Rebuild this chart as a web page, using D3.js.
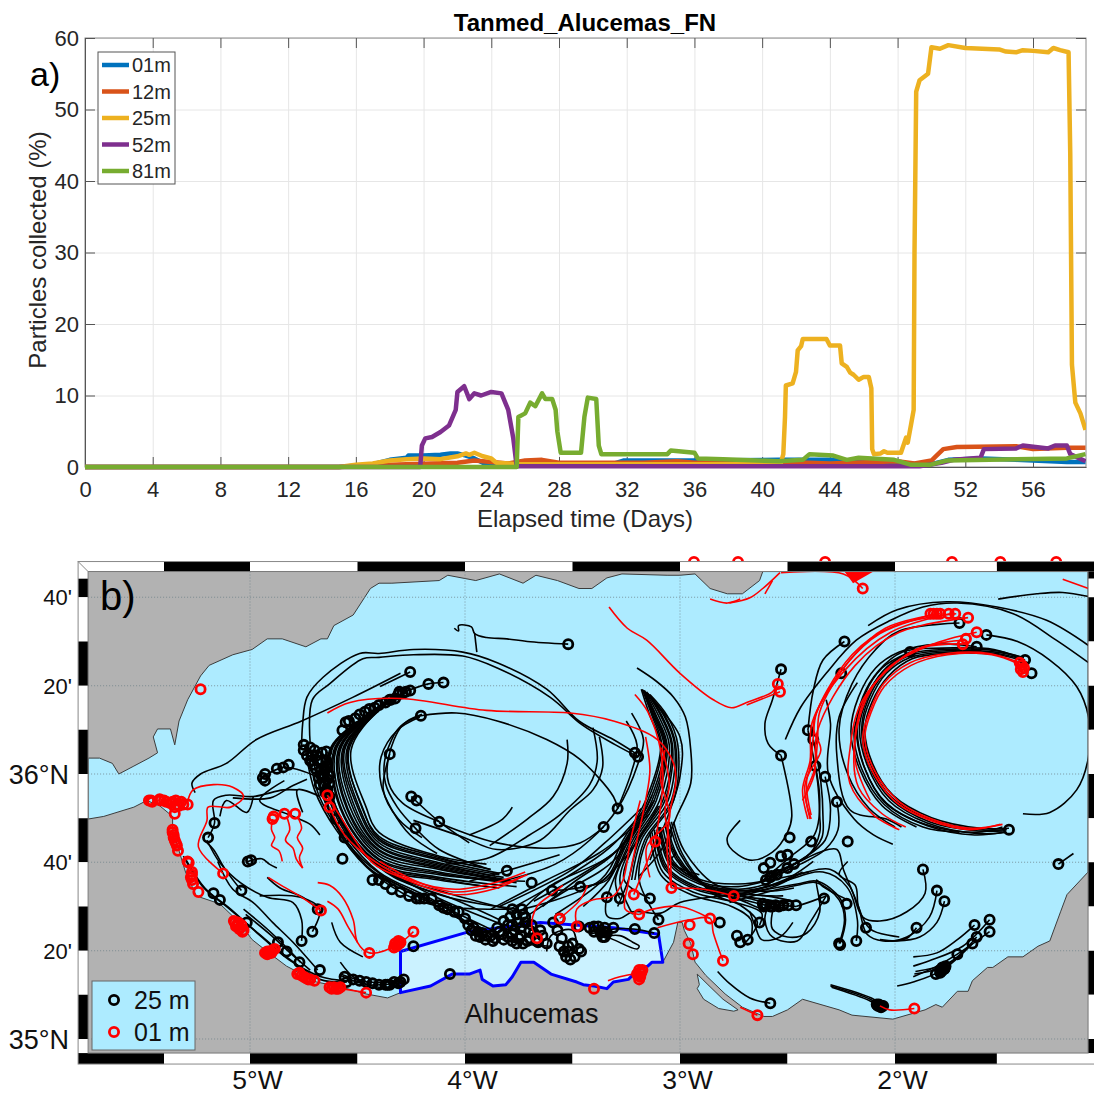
<!DOCTYPE html>
<html>
<head>
<meta charset="utf-8">
<script src="https://cdnjs.cloudflare.com/ajax/libs/d3/7.8.5/d3.min.js"></script>
<style>
body{margin:0;background:#fff;}
svg{display:block;}
text{font-family:"Liberation Sans",Arial,sans-serif;fill:#262626;}
</style>
</head>
<body>
<script>
// ---- panel a data: [day, percent]
var xTicks = [0,4,8,12,16,20,24,28,32,36,40,44,48,52,56];
var yTicks = [0,10,20,30,40,50,60];
var depthNames = ["01m","12m","25m","52m","81m"];
var depthColors = ["#0072BD","#D95319","#EDB120","#7E2F8E","#77AC30"];

var series01 = [[0,0],[15,0],[17,0.4],[18,1],[19,1.3],[19.1,1.6],[20,1.6],[21,1.7],[21.6,1.9],[22,1.9],[22.5,1.6],[23,1.2],[23.5,0.6],[25,0.3],[31,0.3],[31.8,0.9],[36,0.9],[41,1],[44.2,1],[45,0.8],[48,0.5],[50,0.4],[51,1],[53,1.2],[55,1],[58,0.7],[59.1,0.7]];
var series12 = [[0,0],[15,0],[18,0.3],[22,0.6],[23,0.9],[25,0.5],[26,0.9],[27,1],[28,0.6],[33,0.6],[35,0.8],[36,0.6],[40,0.8],[44,0.5],[48,0.8],[49,0.5],[50,0.9],[50.3,1.6],[50.7,2.5],[51.5,2.8],[55,2.9],[56,2.5],[58,2.7],[59.1,2.7]];
var series25 = [[0,0],[15,0],[16,0.3],[17,0.5],[18,0.9],[19,1.1],[20,1.2],[21,1.1],[22,1.5],[22.5,1.9],[22.7,1.7],[23,2],[23.5,1.5],[24,1.2],[24.3,0.6],[25,0.5],[25.5,0.4],[40,0.4],[41.1,0.5],[41.25,1.8],[41.35,7],[41.4,11.4],[41.8,11.7],[42,13.3],[42.1,16.3],[42.3,16.9],[42.4,17.9],[43.8,17.9],[44,17],[44.6,17],[44.7,14.5],[45,14],[45.2,13.2],[45.4,12.9],[45.7,12.2],[46,12.6],[46.3,12.6],[46.45,11],[46.5,2.5],[46.6,1.8],[47,1.9],[47.2,2.2],[47.4,2],[48.2,2],[48.5,4.1],[48.6,3.4],[48.8,6],[48.95,8],[49,30],[49.1,52.5],[49.3,54.1],[49.8,55],[50,58.7],[50.5,58.5],[51,59],[52,58.6],[54,58.4],[54.4,58.1],[55,58],[55.4,58.3],[56,58.2],[56.9,58],[57.2,58.6],[57.6,58.3],[58.1,58],[58.2,43.8],[58.3,14.3],[58.5,9],[58.8,7.5],[59.1,5.2]];
var series52 = [[0,0],[19.8,0],[19.9,3],[20.1,4],[20.5,4.2],[21,4.9],[21.5,5.8],[21.9,8],[22,10.5],[22.4,11.3],[22.7,9.5],[23,10.3],[23.4,10],[24,10.5],[24.6,10.3],[25,8],[25.3,4],[25.5,0.1],[49.3,0.1],[50.6,0.6],[51.3,1],[52.9,1.3],[53.1,2.5],[55,2.6],[55.4,3],[56.9,2.6],[57.3,3],[58,3],[58.2,1.8],[59.1,0.8]];
var series81 = [[0,0],[25.5,0],[25.6,7],[26,7.5],[26.3,9],[26.6,8.5],[27,10.3],[27.2,9.5],[27.6,9.5],[27.8,8],[27.9,5],[28.1,2],[29.3,2],[29.5,7],[29.7,9.7],[30.2,9.5],[30.35,3],[30.5,1.8],[34.4,1.8],[34.6,2.3],[36,2],[36.2,1.2],[37.7,1.1],[41,0.8],[42.4,1],[42.8,1.8],[44.2,1.6],[45,1],[45.7,1.3],[47.8,1],[48.8,0.3],[49.9,0.3],[50.9,0.9],[58,1.2],[59.1,1.8]];
var depthSeries = [series01,series12,series25,series52,series81];

// ---- panel b data: lon, lat in degrees
var lonGrid = [-5,-4,-3,-2];
var latGrid = [35,35.333,35.667,36,36.333,36.667];
var lonLabels = ["5°W","4°W","3°W","2°W"];
var latLabels = ["35°N","20'","40'","36°N","20'","40'"];
var lonEdges = [-5.8,-5.4,-5,-4.5,-4,-3.5,-3,-2.5,-2,-1.526,-1.056];
var latEdges = [36.764,36.737,36.667,36.5,36.333,36.167,36,35.833,35.667,35.5,35.333,35.167,35,34.947];

var northCoast = [[-5.753,36.06],[-5.70,36.06],[-5.64,36.04],[-5.61,36.00],[-5.54,36.03],[-5.47,36.06],[-5.43,36.08],[-5.45,36.14],[-5.43,36.17],[-5.37,36.17],[-5.35,36.11],[-5.33,36.20],[-5.29,36.28],[-5.23,36.37],[-5.19,36.41],[-5.08,36.45],[-4.99,36.47],[-4.92,36.51],[-4.85,36.51],[-4.74,36.48],[-4.67,36.51],[-4.64,36.51],[-4.61,36.56],[-4.52,36.60],[-4.44,36.70],[-4.40,36.72],[-4.34,36.72],[-4.12,36.73],[-4.08,36.75],[-3.95,36.73],[-3.84,36.755],[-3.73,36.72],[-3.67,36.75],[-3.57,36.73],[-3.47,36.70],[-3.41,36.70],[-3.34,36.74],[-3.27,36.755],[-3.06,36.75],[-3.00,36.75],[-2.93,36.755],[-2.86,36.70],[-2.78,36.68],[-2.71,36.68],[-2.63,36.73],[-2.615,36.764],[-1.102,36.764]];
var eastCoast = [[-1.102,35.63],[-1.20,35.545],[-1.23,35.48],[-1.28,35.37],[-1.335,35.35],[-1.405,35.31],[-1.475,35.31],[-1.545,35.27],[-1.57,35.27],[-1.64,35.22],[-1.66,35.18],[-1.71,35.18],[-1.78,35.12],[-1.81,35.13],[-1.86,35.11],[-2.01,35.075],[-2.20,35.09],[-2.26,35.11],[-2.43,35.15],[-2.50,35.11],[-2.57,35.085],[-2.61,35.085],[-2.71,35.12],[-2.79,35.17],[-2.88,35.24],[-2.93,35.29],[-2.95,35.36],[-2.98,35.41],[-2.99,35.44],[-3.01,35.44],[-3.03,35.365],[-3.08,35.29]];
var alhucemasCoast = [[-3.08,35.29],[-3.13,35.29],[-3.15,35.275],[-3.19,35.265],[-3.24,35.225],[-3.31,35.215],[-3.34,35.19],[-3.40,35.20],[-3.45,35.205],[-3.48,35.215],[-3.60,35.245],[-3.68,35.29],[-3.74,35.29],[-3.78,35.235],[-3.81,35.205],[-3.87,35.20],[-3.92,35.225],[-3.93,35.26],[-3.98,35.245],[-4.06,35.245],[-4.16,35.20],[-4.30,35.175]];
var westCoast = [[-4.36,35.155],[-4.46,35.17],[-4.57,35.195],[-4.69,35.215],[-4.83,35.275],[-4.92,35.33],[-4.99,35.375],[-5.05,35.44],[-5.14,35.51],[-5.25,35.54],[-5.30,35.63],[-5.36,35.79],[-5.36,35.84],[-5.42,35.88],[-5.48,35.90],[-5.54,35.875],[-5.68,35.84],[-5.753,35.83]];
var alhucemasTop = [[-4.30,35.175],[-4.30,35.33],[-3.98,35.405],[-3.65,35.44],[-3.31,35.42],[-3.10,35.395],[-3.08,35.29]];
var lagoon = [[-2.92,35.245],[-2.91,35.205],[-2.92,35.19],[-2.89,35.15],[-2.82,35.115],[-2.75,35.105],[-2.73,35.11],[-2.80,35.15],[-2.87,35.205]];
var redBlob = [[-2.235,36.764],[-2.10,36.764],[-2.195,36.72]];

var blackTracks = [
[[-4.26,36.32],[-4.39,36.25],[-4.53,36.09],[-4.46,35.875],[-4.40,35.78],[-4.12,35.69],[-3.90,35.66]],
[[-4.27,36.31],[-4.40,36.24],[-4.54,36.09],[-4.48,35.875],[-4.40,35.765],[-4.12,35.685],[-3.88,35.64]],
[[-4.27,36.31],[-4.41,36.24],[-4.55,36.09],[-4.49,35.87],[-4.40,35.75],[-4.12,35.675],[-3.84,35.625]],
[[-4.28,36.31],[-4.41,36.235],[-4.56,36.09],[-4.50,35.875],[-4.40,35.74],[-4.12,35.665],[-3.84,35.62]],
[[-4.28,36.31],[-4.42,36.23],[-4.57,36.09],[-4.52,35.87],[-4.40,35.725],[-4.12,35.655],[-3.82,35.61]],
[[-4.29,36.30],[-4.43,36.23],[-4.58,36.09],[-4.535,35.875],[-4.40,35.715],[-4.12,35.65],[-3.80,35.60]],
[[-4.30,36.30],[-4.44,36.225],[-4.59,36.09],[-4.55,35.87],[-4.40,35.70],[-4.12,35.64],[-3.78,35.595]],
[[-4.305,36.30],[-4.45,36.22],[-4.60,36.09],[-4.565,35.875],[-4.40,35.69],[-4.12,35.63],[-3.76,35.59]],
[[-4.31,36.295],[-4.46,36.22],[-4.61,36.09],[-4.58,35.87],[-4.40,35.675],[-4.12,35.62],[-3.72,35.595]],
[[-4.32,36.29],[-4.47,36.215],[-4.62,36.09],[-4.60,35.875],[-4.40,35.665],[-4.12,35.61],[-3.76,35.575]],
[[-4.33,36.29],[-4.48,36.21],[-4.63,36.09],[-4.61,35.875],[-4.40,35.65],[-4.12,35.60],[-3.84,35.57]],
[[-4.275,36.31],[-4.405,36.24],[-4.545,36.09],[-4.475,35.87],[-4.40,35.757],[-4.12,35.68],[-3.92,35.65]],
[[-4.285,36.305],[-4.425,36.23],[-4.565,36.09],[-4.51,35.87],[-4.40,35.73],[-4.12,35.66],[-3.86,35.615]],
[[-4.295,36.30],[-4.435,36.225],[-4.585,36.09],[-4.545,35.87],[-4.40,35.71],[-4.12,35.645],[-3.83,35.60]],
[[-4.31,36.30],[-4.455,36.22],[-4.605,36.09],[-4.575,35.87],[-4.40,35.68],[-4.12,35.625],[-3.80,35.59]],
[[-4.325,36.29],[-4.475,36.21],[-4.625,36.09],[-4.605,35.87],[-4.40,35.657],[-4.12,35.605],[-3.90,35.575]],
[[-4.745,36.11],[-4.70,35.94],[-4.60,35.79],[-4.44,35.64],[-4.21,35.54],[-3.98,35.43]],
[[-4.71,36.07],[-4.665,35.92],[-4.56,35.77],[-4.40,35.63],[-4.16,35.53],[-3.92,35.40]],
[[-4.665,36.08],[-4.63,35.90],[-4.53,35.75],[-4.37,35.64],[-4.12,35.53],[-3.82,35.43]],
[[-4.64,36.05],[-4.645,35.90],[-4.545,35.74],[-4.39,35.62],[-4.14,35.515],[-3.87,35.41]],
[[-4.72,36.05],[-4.68,35.92],[-4.58,35.78],[-4.42,35.625],[-4.19,35.525],[-3.95,35.42]],
[[-4.685,36.05],[-4.655,35.93],[-4.57,35.76],[-4.41,35.615],[-4.17,35.51],[-3.79,35.49]],
[[-4.645,36.085],[-4.62,35.92],[-4.52,35.76],[-4.36,35.63],[-4.10,35.54],[-3.75,35.49]],
[[-4.65,36.015],[-4.61,35.89],[-4.51,35.74],[-4.34,35.62],[-4.08,35.55],[-3.70,35.47]],
[[-4.675,35.96],[-4.62,35.84],[-4.50,35.72],[-4.33,35.61],[-4.06,35.53],[-3.84,35.45]],
[[-4.30,36.38],[-4.52,36.29],[-4.76,36.20],[-4.97,36.13],[-5.11,36.04],[-5.23,36.00],[-5.27,35.965],[-5.255,35.93]],
[[-3.21,36.08],[-3.31,36.13],[-3.47,36.20],[-3.62,36.32],[-3.85,36.42],[-4.01,36.46],[-4.24,36.47],[-4.40,36.455],[-4.49,36.455],[-4.66,36.365],[-4.735,36.29],[-4.755,36.19],[-4.76,36.10]],
[[-3.195,36.065],[-3.30,36.11],[-3.455,36.185],[-3.605,36.29],[-3.85,36.40],[-4.01,36.445],[-4.24,36.45],[-4.40,36.44],[-4.475,36.435],[-4.63,36.34],[-4.71,36.28],[-4.72,36.115]],
[[-3.52,36.49],[-3.71,36.50],[-3.805,36.51],[-3.90,36.515],[-3.955,36.53],[-3.97,36.555],[-4.03,36.56],[-4.03,36.54],[-4.05,36.55]],
[[-3.955,36.53],[-3.945,36.46]],
[[-4.255,36.385],[-4.395,36.33]],
[[-4.10,36.345],[-4.17,36.34],[-4.28,36.31]],
[[-4.205,36.22],[-4.04,36.23],[-3.85,36.20],[-3.62,36.13],[-3.465,36.055],[-3.31,35.915],[-3.29,35.87]],
[[-4.205,36.22],[-4.30,36.18],[-4.37,36.065],[-4.37,35.965],[-4.315,35.875],[-4.23,35.795],[-4.12,35.715],[-3.885,35.64]],
[[-4.21,36.215],[-4.315,36.165],[-4.39,36.065],[-4.39,35.96],[-4.34,35.865],[-4.255,35.77],[-4.13,35.70]],
[[-4.20,36.225],[-4.29,36.185],[-4.355,36.065],[-4.355,35.965],[-4.29,35.89],[-4.12,35.82]],
[[-4.35,36.075],[-4.38,35.94],[-4.31,35.83],[-4.20,35.76]],
[[-4.25,35.915],[-4.12,35.82],[-3.98,35.74]],
[[-3.525,36.13],[-3.525,36.04],[-3.59,35.915],[-3.71,35.83],[-3.885,35.73]],
[[-3.78,35.875],[-3.825,35.83],[-3.98,35.77]],
[[-3.355,35.80],[-3.465,35.74],[-3.62,35.72],[-3.85,35.74],[-4.01,35.78],[-4.12,35.815]],
[[-3.375,36.14],[-3.36,36.025],[-3.405,35.94],[-3.51,35.865],[-3.65,35.75],[-3.85,35.715],[-4.02,35.765],[-4.24,35.825]],
[[-3.405,36.175],[-3.385,36.05],[-3.42,35.96],[-3.56,35.845],[-3.70,35.77],[-3.885,35.685],[-4.09,35.66]],
[[-3.56,35.695],[-3.805,35.635],[-3.98,35.595]],
[[-3.225,36.23],[-3.17,36.13],[-3.195,36.04],[-3.29,35.87],[-3.42,35.75],[-3.58,35.66],[-3.805,35.60]],
[[-3.25,36.20],[-3.20,36.11],[-3.225,36.01],[-3.29,35.87]],
[[-3.20,36.40],[-3.11,36.35],[-3.03,36.29],[-2.975,36.215],[-2.95,36.09],[-2.95,35.965],[-3.01,35.85],[-3.09,35.71],[-3.19,35.615]],
[[-3.17,36.315],[-3.00,36.14],[-3.00,35.99],[-3.05,35.855],[-3.14,35.675]],
[[-3.18,36.32],[-3.14,36.22],[-3.09,36.11],[-3.16,35.90],[-3.265,35.75],[-3.37,35.60],[-3.73,35.49]],
[[-3.175,36.32],[-3.13,36.22],[-3.085,36.11],[-3.15,35.90],[-3.255,35.75],[-3.355,35.60],[-3.595,35.56]],
[[-3.17,36.315],[-3.125,36.22],[-3.075,36.11],[-3.14,35.90],[-3.25,35.75],[-3.34,35.60],[-3.465,35.575]],
[[-3.17,36.315],[-3.12,36.22],[-3.07,36.11],[-3.13,35.90],[-3.24,35.75],[-3.33,35.60],[-3.45,35.50]],
[[-3.165,36.315],[-3.115,36.22],[-3.065,36.11],[-3.12,35.90],[-3.23,35.75],[-3.31,35.60],[-3.34,35.535]],
[[-3.165,36.31],[-3.11,36.22],[-3.06,36.11],[-3.11,35.90],[-3.22,35.75],[-3.30,35.60],[-3.28,35.53]],
[[-3.16,36.31],[-3.10,36.22],[-3.05,36.11],[-3.095,35.90],[-3.21,35.75],[-3.28,35.60],[-3.22,35.47]],
[[-3.155,36.31],[-3.09,36.22],[-3.04,36.11],[-3.08,35.90],[-3.20,35.75],[-3.26,35.60],[-3.14,35.53]],
[[-3.15,36.305],[-3.085,36.22],[-3.035,36.11],[-3.07,35.90],[-3.19,35.75],[-3.24,35.60],[-3.29,35.50]],
[[-3.15,36.30],[-3.075,36.22],[-3.025,36.11],[-3.055,35.90],[-3.18,35.75],[-3.225,35.60]],
[[-3.145,36.30],[-3.07,36.22],[-3.02,36.11],[-3.04,35.90],[-3.165,35.75],[-3.21,35.60]],
[[-3.14,36.30],[-3.06,36.22],[-3.01,36.11],[-3.03,35.90],[-3.155,35.75],[-3.19,35.60],[-3.10,35.45]],
[[-3.12,35.90],[-3.31,35.70],[-3.60,35.58],[-3.73,35.49]],
[[-3.15,35.88],[-3.33,35.72],[-3.53,35.61],[-3.79,35.49]],
[[-3.18,35.87],[-3.35,35.74],[-3.50,35.64],[-3.84,35.50]],
[[-3.13,35.92],[-3.30,35.68],[-3.55,35.55],[-3.70,35.47]],
[[-3.14,35.85],[-3.38,35.70],[-3.62,35.60],[-3.88,35.49]],
[[-3.17,35.83],[-3.28,35.72],[-3.44,35.63],[-3.68,35.52]],
[[-3.20,35.80],[-3.32,35.69],[-3.48,35.60],[-3.64,35.50]],
[[-3.10,35.88],[-3.25,35.69],[-3.40,35.57],[-3.58,35.47]],
[[-3.09,35.80],[-3.04,35.67],[-2.90,35.60],[-2.73,35.585],[-2.60,35.60],[-2.47,35.65]],
[[-3.08,35.80],[-3.03,35.67],[-2.89,35.59],[-2.73,35.575],[-2.58,35.60],[-2.40,35.63]],
[[-3.10,35.80],[-3.05,35.66],[-2.91,35.585],[-2.73,35.565],[-2.60,35.585],[-2.53,35.62]],
[[-3.07,35.81],[-3.02,35.68],[-2.88,35.58],[-2.72,35.555],[-2.58,35.57],[-2.43,35.63]],
[[-3.11,35.79],[-3.06,35.65],[-2.92,35.575],[-2.73,35.55],[-2.60,35.54],[-2.47,35.52]],
[[-3.06,35.81],[-3.01,35.69],[-2.87,35.57],[-2.72,35.54],[-2.58,35.51],[-2.46,35.50]],
[[-3.12,35.79],[-3.07,35.64],[-2.93,35.565],[-2.73,35.53],[-2.60,35.505],[-2.51,35.495]],
[[-3.05,35.82],[-3.00,35.70],[-2.86,35.56],[-2.72,35.525],[-2.61,35.49],[-2.56,35.495]],
[[-3.13,35.78],[-3.08,35.63],[-2.94,35.555],[-2.74,35.515],[-2.62,35.475],[-2.63,35.43]],
[[-3.04,35.82],[-2.99,35.70],[-2.85,35.55],[-2.72,35.505],[-2.64,35.44],[-2.70,35.36]],
[[-3.14,35.78],[-3.09,35.62],[-2.95,35.545],[-2.76,35.50],[-2.67,35.45],[-2.67,35.38]],
[[-3.03,35.82],[-2.98,35.71],[-2.84,35.585],[-2.70,35.56],[-2.55,35.56],[-2.47,35.57]],
[[-3.095,35.80],[-3.045,35.665],[-2.905,35.59],[-2.73,35.56],[-2.59,35.575],[-2.50,35.60]],
[[-3.115,35.78],[-3.065,35.645],[-2.925,35.57],[-2.73,35.54],[-2.59,35.525],[-2.49,35.51]],
[[-3.065,35.81],[-3.015,35.685],[-2.875,35.575],[-2.72,35.548],[-2.58,35.54],[-2.52,35.54]],
[[-3.34,35.54],[-3.34,35.465],[-3.28,35.455],[-3.22,35.48],[-3.09,35.475],[-3.00,35.515],[-2.72,35.545]],
[[-3.07,35.81],[-3.04,35.77],[-3.055,35.73],[-3.02,35.705],[-3.045,35.67],[-3.00,35.645],[-2.955,35.63],[-2.91,35.62]],
[[-1.87,35.64],[-1.86,35.55],[-1.945,35.48],[-2.07,35.445],[-2.15,35.46],[-2.21,35.575],[-2.30,35.64],[-2.41,35.63],[-2.535,35.59]],
[[-1.805,35.56],[-1.84,35.46],[-1.945,35.385],[-2.055,35.37],[-2.13,35.395],[-2.17,35.50],[-2.24,35.64],[-2.27,35.715],[-2.35,35.705],[-2.455,35.665],[-2.595,35.61]],
[[-1.77,35.52],[-1.805,35.44],[-1.885,35.385],[-1.99,35.37],[-2.07,35.375]],
[[-1.90,35.42],[-1.945,35.38],[-2.02,35.37]],
[[-2.26,35.36],[-2.235,35.45],[-2.26,35.525],[-2.365,35.59],[-2.455,35.58],[-2.615,35.55],[-2.77,35.515]],
[[-2.255,35.36],[-2.23,35.45],[-2.255,35.53],[-2.36,35.595],[-2.455,35.585],[-2.62,35.56],[-2.77,35.525]],
[[-2.18,35.37],[-2.175,35.45],[-2.225,35.575],[-2.335,35.63],[-2.535,35.59],[-2.77,35.535]],
[[-2.22,35.67],[-2.26,35.62],[-2.185,35.58],[-2.17,35.50],[-2.115,35.415],[-1.98,35.385]],
[[-2.38,35.67],[-2.49,35.61],[-2.675,35.555],[-2.77,35.535]],
[[-2.32,35.54],[-2.395,35.44],[-2.455,35.37],[-2.57,35.385],[-2.605,35.45],[-2.595,35.49]],
[[-2.22,35.525],[-2.335,35.575],[-2.365,35.60],[-2.35,35.48],[-2.41,35.40],[-2.50,35.385],[-2.57,35.415],[-2.57,35.48]],
[[-2.475,35.44],[-2.535,35.385],[-2.62,35.375],[-2.65,35.425],[-2.675,35.48]],
[[-2.46,35.50],[-2.37,35.525],[-2.32,35.54]],
[[-2.53,36.07],[-2.48,35.84],[-2.50,35.78],[-2.57,35.705],[-2.675,35.675],[-2.77,35.725],[-2.78,35.76],[-2.72,35.825]],
[[-2.53,36.395],[-2.57,36.28],[-2.605,36.19],[-2.59,36.115],[-2.53,36.07]],
[[-2.235,36.50],[-2.335,36.43],[-2.38,36.315],[-2.405,36.165]],
[[-2.405,36.165],[-2.36,35.97],[-2.35,35.84],[-2.35,35.78],[-2.395,35.70],[-2.585,35.61]],
[[-2.38,36.13],[-2.345,35.97],[-2.335,35.84],[-2.34,35.76],[-2.41,35.69],[-2.56,35.63]],
[[-2.325,35.99],[-2.30,35.865],[-2.325,35.75],[-2.44,35.675],[-2.56,35.62]],
[[-2.27,35.895],[-2.265,35.79],[-2.325,35.715],[-2.44,35.66],[-2.62,35.595]],
[[-2.37,36.03],[-2.35,35.90],[-2.375,35.77],[-2.49,35.685],[-2.62,35.595]],
[[-2.32,36.28],[-2.30,36.19],[-2.31,36.00],[-2.19,35.83],[-2.10,35.77],[-2.01,35.735]],
[[-2.175,36.345],[-2.26,36.215],[-2.27,36.065],[-2.21,35.865],[-2.04,35.83],[-1.97,35.80]],
[[-1.395,36.43],[-1.525,36.455],[-1.76,36.46],[-1.93,36.44],[-2.04,36.38],[-2.115,36.28],[-2.15,36.175],[-2.115,36.04],[-2.02,35.915],[-1.84,35.83],[-1.605,35.79],[-1.48,35.79]],
[[-1.41,36.44],[-1.53,36.465],[-1.77,36.47],[-1.95,36.45],[-2.06,36.385],[-2.13,36.285],[-2.165,36.175],[-2.13,36.035],[-2.03,35.90],[-1.85,35.815],[-1.61,35.775],[-1.48,35.78]],
[[-1.43,36.44],[-1.54,36.47],[-1.78,36.475],[-1.965,36.46],[-2.075,36.39],[-2.15,36.29],[-2.18,36.17],[-2.145,36.03],[-2.05,35.895],[-1.86,35.81],[-1.62,35.78],[-1.50,35.80]],
[[-1.38,36.42],[-1.52,36.45],[-1.75,36.455],[-1.92,36.435],[-2.03,36.37],[-2.105,36.275],[-2.14,36.17],[-2.105,36.04],[-2.01,35.92],[-1.83,35.835],[-1.60,35.795],[-1.47,35.795]],
[[-1.40,36.44],[-1.53,36.46],[-1.76,36.465],[-1.94,36.445],[-2.05,36.38],[-2.125,36.28],[-2.155,36.17],[-2.12,36.03],[-2.02,35.905],[-1.84,35.82],[-1.61,35.785],[-1.49,35.785]],
[[-1.93,36.46],[-2.06,36.40],[-2.14,36.30],[-2.175,36.17],[-2.14,36.02],[-2.04,35.89],[-1.85,35.805],[-1.63,35.77],[-1.50,35.78]],
[[-1.93,36.455],[-2.05,36.39],[-2.135,36.29],[-2.19,36.16],[-2.155,36.02],[-2.05,35.885],[-1.87,35.80],[-1.70,35.78]],
[[-1.62,36.48],[-1.80,36.49],[-1.98,36.46],[-2.09,36.40],[-2.17,36.29],[-2.205,36.16],[-2.165,36.02],[-2.06,35.88],[-1.90,35.80]],
[[-1.70,36.57],[-1.98,36.54],[-2.09,36.47],[-2.20,36.34],[-2.26,36.17],[-2.22,36.0],[-2.12,35.87],[-2.00,35.80]],
[[-1.575,36.525],[-1.43,36.50],[-1.28,36.43],[-1.155,36.33],[-1.10,36.215],[-1.10,36.065],[-1.155,35.94],[-1.28,35.855],[-1.405,35.85]],
[[-2.125,36.56],[-1.99,36.62],[-1.76,36.65],[-1.525,36.63],[-1.295,36.58],[-1.10,36.485]],
[[-1.10,36.42],[-1.25,36.505],[-1.45,36.605],[-1.71,36.645],[-1.87,36.63],[-2.02,36.58],[-2.18,36.505],[-2.32,36.38],[-2.44,36.25],[-2.51,36.13]],
[[-1.52,36.66],[-1.34,36.68],[-1.22,36.685],[-1.10,36.67]],
[[-1.63,35.43],[-1.71,35.375],[-1.805,35.325],[-1.915,35.31]],
[[-1.56,35.45],[-1.685,35.35],[-1.84,35.295],[-1.915,35.275]],
[[-1.56,35.405],[-1.71,35.32],[-1.805,35.275],[-1.915,35.235]],
[[-1.64,35.36],[-1.78,35.26],[-1.915,35.215],[-1.99,35.20]],
[[-1.62,35.385],[-1.745,35.29],[-1.905,35.255]],
[[-1.72,35.30],[-1.80,35.265],[-1.91,35.245]],
[[-2.30,35.20],[-2.115,35.15],[-2.07,35.125]],
[[-2.30,35.205],[-2.11,35.155],[-2.06,35.13]],
[[-2.295,35.195],[-2.12,35.145],[-2.07,35.12]],
[[-2.58,35.135],[-2.675,35.155],[-2.77,35.21],[-2.825,35.255]],
[[-1.24,35.66],[-1.17,35.70]],
[[-5.31,35.69],[-5.22,35.575],[-5.11,35.50],[-5.00,35.425],[-4.83,35.31],[-4.675,35.225],[-4.55,35.215]],
[[-5.30,35.68],[-5.21,35.57],[-5.09,35.49],[-4.98,35.41],[-4.82,35.30],[-4.67,35.235],[-4.55,35.22]],
[[-5.15,35.67],[-5.08,35.565],[-4.985,35.515],[-4.895,35.44],[-4.80,35.365],[-4.685,35.26]],
[[-5.20,35.75],[-5.14,35.665],[-5.045,35.59],[-4.92,35.535],[-4.80,35.515],[-4.76,35.45],[-4.76,35.37]],
[[-4.71,35.405],[-4.675,35.49],[-4.765,35.535],[-4.955,35.54]],
[[-4.92,35.61],[-4.86,35.57],[-4.755,35.535],[-4.685,35.49]],
[[-5.01,35.67],[-4.945,35.68],[-4.91,35.66],[-4.875,35.645]],
[[-5.03,35.49],[-4.92,35.415],[-4.83,35.345],[-4.765,35.29]],
[[-5.02,35.47],[-4.90,35.39],[-4.82,35.33],[-4.72,35.26]],
[[-4.62,35.44],[-4.58,35.365],[-4.475,35.31]],
[[-4.58,35.29],[-4.52,35.235],[-4.455,35.215]],
[[-4.58,35.245],[-4.45,35.215],[-4.28,35.22]],
[[-4.58,35.24],[-4.45,35.205],[-4.28,35.215]],
[[-4.50,35.22],[-4.40,35.195],[-4.30,35.205]],
[[-5.04,35.56],[-5.115,35.64],[-5.17,35.715],[-5.20,35.74]],
[[-5.195,35.76],[-5.165,35.815],[-5.17,35.90],[-5.11,35.92],[-4.985,35.915],[-4.845,35.94],[-4.78,35.94]],
[[-5.14,35.84],[-5.11,35.90],[-5.015,35.855],[-4.985,35.915]],
[[-4.755,35.855],[-4.78,35.94],[-4.675,35.915]],
[[-4.94,35.99],[-4.845,36.025],[-4.77,36.015],[-4.675,35.985]],
[[-5.08,35.91],[-4.905,35.91],[-4.815,35.95],[-4.735,35.98]],
[[-4.84,35.975],[-4.955,35.90],[-4.815,35.845],[-4.72,35.81],[-4.675,35.77]],
[[-3.37,35.385],[-3.28,35.39],[-3.22,35.365],[-3.19,35.35],[-3.20,35.34],[-3.31,35.375],[-3.42,35.415]],
[[-3.42,35.395],[-3.305,35.415],[-3.215,35.415],[-3.12,35.40]],
[[-3.98,35.43],[-3.80,35.37],[-3.60,35.35]],
[[-3.62,35.33],[-3.60,35.39],[-3.50,35.41],[-3.48,35.33]]
];

var redTracks = [
[[-4.64,36.23],[-4.535,36.27],[-4.30,36.285],[-3.90,36.24],[-3.51,36.23],[-3.31,36.20],[-3.105,36.13],[-3.03,36.04],[-3.02,35.965],[-3.045,35.865],[-3.06,35.71],[-3.04,35.57]],
[[-3.33,36.63],[-3.245,36.55],[-3.155,36.505],[-3.00,36.38],[-2.845,36.28],[-2.76,36.25],[-2.69,36.27],[-2.57,36.31],[-2.545,36.34]],
[[-2.69,36.26],[-2.535,36.31]],
[[-3.21,36.30],[-3.15,36.235],[-3.09,36.09],[-3.08,35.965],[-3.115,35.745]],
[[-3.16,36.14],[-3.14,36.015],[-3.16,35.90],[-3.20,35.75],[-3.24,35.59],[-3.255,35.49],[-3.19,35.47]],
[[-3.14,35.61],[-3.155,35.725],[-3.05,35.83],[-3.09,35.98],[-3.07,36.09]],
[[-3.085,36.10],[-3.05,35.965],[-3.07,35.855],[-3.05,35.75],[-3.04,35.57]],
[[-3.115,35.745],[-3.155,35.665],[-3.215,35.545]],
[[-2.75,35.54],[-2.89,35.565],[-3.04,35.57]],
[[-3.105,35.42],[-2.955,35.45],[-2.86,35.455],[-2.845,35.40],[-2.80,35.295]],
[[-2.86,35.455],[-3.00,35.50],[-3.125,35.49],[-3.19,35.47]],
[[-3.665,35.38],[-3.69,35.425],[-3.665,35.50],[-3.59,35.55],[-3.545,35.58]],
[[-3.56,35.455],[-3.465,35.525],[-3.43,35.58]],
[[-3.48,35.425],[-3.48,35.49],[-3.405,35.525],[-3.31,35.54],[-3.265,35.60],[-3.23,35.75],[-3.185,35.90]],
[[-4.395,35.67],[-4.24,35.60],[-4.055,35.555],[-3.85,35.58],[-3.71,35.62]],
[[-4.64,35.92],[-4.58,35.84],[-4.43,35.665],[-4.30,35.61],[-4.055,35.545],[-3.85,35.57],[-3.73,35.615]],
[[-4.63,35.875],[-4.56,35.77],[-4.42,35.67],[-4.255,35.60],[-4.045,35.565],[-3.84,35.595],[-3.72,35.63]],
[[-5.29,35.895],[-5.265,35.94],[-5.17,35.96],[-5.08,35.95],[-5.03,35.915],[-5.09,35.875],[-5.195,35.875],[-5.20,35.825],[-5.24,35.725],[-5.125,35.625]],
[[-4.915,35.61],[-4.845,35.575],[-4.77,35.54],[-4.67,35.485]],
[[-4.685,35.59],[-4.63,35.58],[-4.57,35.535],[-4.52,35.45],[-4.50,35.365],[-4.445,35.325],[-4.315,35.355],[-4.24,35.405]],
[[-4.64,35.52],[-4.59,35.49],[-4.545,35.425],[-4.50,35.365]],
[[-4.895,35.83],[-4.90,35.79],[-4.885,35.76],[-4.90,35.73],[-4.865,35.71],[-4.85,35.67]],
[[-4.83,35.84],[-4.815,35.79],[-4.835,35.75],[-4.80,35.72],[-4.785,35.68],[-4.755,35.645]],
[[-4.78,35.84],[-4.76,35.795],[-4.78,35.76],[-4.755,35.72],[-4.77,35.685],[-4.755,35.645]],
[[-4.615,35.195],[-4.46,35.175]],
[[-3.335,35.22],[-3.28,35.235],[-3.185,35.25]],
[[-2.72,35.12],[-2.64,35.09]],
[[-2.07,35.125],[-2.025,35.11],[-1.91,35.115]],
[[-2.77,36.645],[-2.675,36.665],[-2.615,36.70],[-2.535,36.76]],
[[-2.605,36.68],[-2.57,36.73]],
[[-2.53,36.76],[-2.24,36.755],[-2.15,36.70]],
[[-1.22,36.735],[-1.10,36.70]],
[[-2.86,36.66],[-2.78,36.645],[-2.72,36.66]],
[[-1.42,36.42],[-1.56,36.455],[-1.76,36.455],[-1.93,36.42],[-2.055,36.34],[-2.115,36.24],[-2.15,36.14],[-2.115,36.025],[-1.99,35.89],[-1.835,35.825],[-1.65,35.79],[-1.51,35.81]],
[[-1.41,36.41],[-1.55,36.45],[-1.755,36.45],[-1.925,36.41],[-2.05,36.33],[-2.11,36.235],[-2.14,36.14],[-2.10,36.02],[-1.98,35.895],[-1.83,35.83],[-1.65,35.795],[-1.50,35.81]],
[[-1.685,36.505],[-1.915,36.465],[-2.15,36.28],[-2.21,36.09],[-2.21,35.965],[-2.10,35.845],[-1.98,35.79]],
[[-1.66,36.49],[-1.90,36.47],[-2.13,36.30],[-2.19,36.10],[-2.17,35.95],[-2.06,35.85],[-1.95,35.80]],
[[-1.62,36.535],[-1.84,36.485],[-2.045,36.39],[-2.155,36.24],[-2.185,36.05],[-2.115,35.90]],
[[-1.815,36.605],[-2.07,36.53],[-2.225,36.415],[-2.365,36.23],[-2.38,36.14],[-2.395,36.025],[-2.42,35.95],[-2.395,35.83]],
[[-1.79,36.605],[-2.045,36.55],[-2.21,36.43],[-2.35,36.235],[-2.36,36.13],[-2.375,36.015],[-2.415,35.92],[-2.39,35.83]],
[[-1.745,36.605],[-2.02,36.535],[-2.235,36.39],[-2.385,36.195],[-2.395,36.05],[-2.43,35.94],[-2.405,35.83]],
[[-1.715,36.605],[-2.0,36.56],[-2.20,36.45],[-2.38,36.185],[-2.345,36.09],[-2.41,35.98],[-2.39,35.845]],
[[-1.66,36.59],[-1.98,36.535],[-2.185,36.41],[-2.36,36.165],[-2.375,36.0],[-2.43,35.90]]
];

var blackEnds = [[-4.93,36.00],[-4.93,35.975],[-4.94,35.985],[-4.875,36.02],[-4.845,36.025],[-4.82,36.035],[-4.75,36.11],[-4.72,36.10],[-4.71,36.07],[-4.665,36.08],[-4.645,36.085],[-4.72,36.05],[-4.685,36.05],[-4.645,36.05],[-4.695,36.02],[-4.65,36.015],[-4.63,35.995],[-4.675,35.96],[-4.64,35.94],[-4.63,35.915],[-4.665,35.995],
[-4.75,36.09],[-4.735,36.07],[-4.70,36.09],[-4.69,36.07],[-4.67,36.05],[-4.705,36.035],[-4.67,36.02],[-4.66,36.00],[-4.64,35.98],[-4.655,35.96],[-4.63,35.965],[-4.65,35.93],[-4.68,35.985],[-4.645,36.03],
[-4.57,36.165],[-4.555,36.195],[-4.51,36.21],[-4.465,36.235],[-4.42,36.25],[-4.37,36.27],[-4.325,36.285],[-4.29,36.305],[-4.255,36.315],[-4.31,36.30],[-4.35,36.28],[-4.54,36.20],[-4.49,36.225],[-4.445,36.245],[-4.40,36.26],[-4.345,36.28],[-4.305,36.31],[-4.275,36.31],[-4.255,36.385],[-4.17,36.34],[-4.10,36.345],[-4.205,36.22],[-4.35,36.075],[-4.25,35.915],[-4.225,35.90],[-4.12,35.82],[-4.23,35.795],[-3.355,35.80],[-3.21,36.08],[-3.195,36.065],[-3.29,35.87],[-3.52,36.49],
[-3.805,35.635],[-3.595,35.56],[-3.465,35.575],[-3.34,35.535],[-3.28,35.53],[-3.14,35.53],[-3.10,35.45],[-2.815,35.44],[-2.735,35.39],
[-4.40,35.60],[-4.225,35.53],[-4.19,35.53],[-4.155,35.53],[-4.12,35.505],[-4.08,35.49],[-4.03,35.48],[-3.985,35.43],[-3.92,35.40],[-3.825,35.395],[-3.78,35.49],[-3.735,35.49],[-3.69,35.59],
[-4.37,35.585],[-4.34,35.565],[-4.30,35.555],[-4.26,35.54],[-4.21,35.53],[-4.10,35.495],[-4.05,35.48],[-4.00,35.455],[-3.96,35.42],[-3.94,35.405],
[-3.90,35.39],[-3.87,35.37],[-3.84,35.405],[-3.80,35.385],[-3.77,35.41],[-3.74,35.39],[-3.71,35.37],[-3.68,35.40],[-3.75,35.44],[-3.72,35.46],[-3.69,35.43],[-3.76,35.36],[-3.80,35.43],[-3.85,35.42],[-3.66,35.365],[-3.64,35.39],
[-3.97,35.41],[-3.95,35.39],[-3.93,35.385],[-3.905,35.375],[-3.88,35.39],[-3.86,35.38],[-3.82,35.375],[-3.78,35.37],[-3.78,35.395],[-3.75,35.38],[-3.73,35.36],[-3.70,35.38],[-3.70,35.41],[-3.72,35.44],[-3.73,35.47],[-3.76,35.47],[-3.79,35.46],[-3.82,35.445],[-3.78,35.43],[-3.74,35.42],[-3.665,35.37],[-3.65,35.41],[-3.62,35.36],
[-3.59,35.44],[-3.57,35.41],[-3.55,35.38],[-3.56,35.35],[-3.54,35.33],[-3.52,35.33],[-3.50,35.36],[-3.47,35.34],[-3.49,35.31],[-3.51,35.30],[-3.42,35.42],[-3.40,35.405],[-3.38,35.425],[-3.37,35.40],[-3.35,35.405],[-3.36,35.385],[-3.34,35.40],
[-3.56,35.455],[-3.52,35.35],[-3.46,35.33],[-3.53,35.31],[-3.47,35.425],[-3.40,35.425],[-3.35,35.385],[-3.35,35.42],[-3.31,35.42],[-3.21,35.415],[-3.12,35.40],[-4.24,35.35],[-4.07,35.245],[-4.36,35.205],[-4.33,35.215],[-4.285,35.225],[-4.30,35.215],
[-4.56,35.235],[-4.52,35.225],[-4.49,35.22],[-4.46,35.215],[-4.43,35.21],[-4.35,35.205],[-4.31,35.21],
[-5.195,35.76],[-5.165,35.815],[-5.01,35.67],[-4.995,35.675],[-5.04,35.56],[-5.17,35.55],[-5.14,35.525],[-4.685,35.49],[-4.71,35.405],[-4.76,35.37],[-5.015,35.44],[-4.87,35.365],[-4.83,35.33],[-4.77,35.29],[-4.675,35.26],[-4.55,35.215],[-4.40,35.205],[-4.37,35.205],[-4.60,35.83],[-4.56,35.76],[-4.57,35.68],[-4.43,35.60],
[-2.49,35.76],[-2.39,35.745],[-2.22,35.745],[-2.53,35.69],[-2.50,35.695],[-2.58,35.665],[-2.61,35.645],[-2.58,35.61],[-2.33,35.53],[-2.225,35.51],[-2.46,35.505],[-2.495,35.505],[-2.54,35.50],[-2.58,35.50],[-2.61,35.50],[-2.60,35.60],[-2.575,35.615],[-2.55,35.62],[-2.60,35.505],[-2.57,35.50],[-2.555,35.505],[-2.52,35.505],[-2.615,35.51],[-2.50,35.645],[-2.47,35.66],
[-2.63,35.44],[-2.72,35.365],[-2.685,35.375],[-2.26,35.36],[-2.255,35.355],[-2.18,35.37],[-2.135,35.42],[-1.90,35.42],[-1.87,35.64],[-1.805,35.56],[-1.77,35.52],[-1.63,35.43],[-1.56,35.45],[-1.56,35.405],[-1.62,35.385],[-1.64,35.36],[-1.71,35.32],[-1.78,35.26],[-1.79,35.25],[-1.77,35.265],[-1.81,35.245],[-1.785,35.255],[-1.77,35.265],[-1.765,35.275],[-1.78,35.27],[-1.79,35.26],[-2.58,35.135],[-2.07,35.125],[-2.06,35.125],[-2.08,35.125],[-2.075,35.13],[-2.065,35.12],[-2.055,35.125],[-2.085,35.13],[-1.24,35.66],[-1.47,35.79],
[-2.235,36.50],[-2.53,36.395],[-2.405,36.165],[-2.38,36.13],[-2.53,36.07],[-2.325,35.99],[-2.37,36.03],[-2.27,35.895],[-2.25,36.38],[-1.93,36.46],[-1.70,36.57],[-1.575,36.525],[-1.62,36.48],[-1.395,36.43],[-1.365,36.38]];

var redEnds = [[-5.47,35.90],[-5.455,35.895],[-5.415,35.90],[-5.40,35.90],[-5.345,35.90],[-5.32,35.895],[-5.29,35.885],[-5.35,35.85],[-5.23,36.32],
[-5.46,35.90],[-5.42,35.905],[-5.39,35.895],[-5.37,35.89],[-5.36,35.895],[-5.34,35.885],[-5.33,35.88],[-5.31,35.885],[-5.35,35.875],
[-5.36,35.79],[-5.355,35.77],[-5.35,35.75],[-5.34,35.73],[-5.335,35.71],[-5.29,35.67],[-5.27,35.63],[-5.275,35.61],[-5.265,35.585],[-5.24,35.555],[-5.125,35.625],[-5.36,35.78],[-5.355,35.76],[-5.345,35.74],[-5.285,35.665],[-5.27,35.62],[-5.27,35.60],
[-5.07,35.44],[-5.06,35.43],[-5.045,35.42],[-5.03,35.41],[-5.075,35.445],[-5.065,35.425],[-5.055,35.44],[-5.05,35.415],[-5.04,35.43],[-5.035,35.405],
[-4.92,35.33],[-4.895,35.335],[-4.91,35.33],[-4.93,35.325],[-4.92,35.32],[-4.905,35.33],[-4.90,35.325],[-4.885,35.34],
[-4.77,35.25],[-4.74,35.23],[-4.70,35.22],[-4.78,35.245],[-4.76,35.24],[-4.75,35.235],[-4.73,35.225],[-4.72,35.225],
[-4.62,35.19],[-4.59,35.19],[-4.63,35.195],[-4.61,35.195],[-4.60,35.19],[-4.58,35.195],[-4.46,35.175],[-4.67,35.485],[-4.445,35.325],
[-4.325,35.36],[-4.31,35.37],[-4.315,35.355],[-4.33,35.345],[-4.32,35.35],[-4.305,35.36],[-4.30,35.365],[-4.24,35.405],
[-4.895,35.83],[-4.84,35.85],[-4.79,35.85],[-4.89,35.84],[-4.64,35.92],[-4.63,35.875],
[-3.665,35.38],[-3.56,35.455],[-3.48,35.425],[-3.40,35.19],[-3.185,35.25],[-3.19,35.225],[-3.195,35.24],[-3.20,35.245],[-3.19,35.26],[-3.18,35.25],[-3.175,35.26],[-3.185,35.235],
[-3.115,35.745],[-3.04,35.57],[-3.215,35.545],[-3.19,35.47],[-2.86,35.455],[-2.75,35.54],[-2.955,35.43],[-2.96,35.36],[-2.94,35.32],[-2.80,35.295],[-2.64,35.09],[-1.91,35.115],
[-2.935,36.80],[-2.73,36.80],[-2.325,36.80],[-1.735,36.80],[-1.51,36.80],[-1.25,36.80],[-2.15,36.70],
[-2.545,36.34],[-2.535,36.31],[-1.835,36.605],[-1.805,36.605],[-1.75,36.605],[-1.72,36.605],[-1.82,36.605],[-1.79,36.605],[-1.66,36.59],[-1.62,36.535],[-1.67,36.51],[-1.685,36.49],[-1.42,36.42],[-1.41,36.41],[-1.405,36.385],[-1.415,36.395],[-1.40,36.40]];

var svg = d3.select("body").append("svg").attr("width",1094).attr("height",1095);

// ---- panel a
var aLeft = 85, aRight = 1086, aTop = 38, aBottom = 467;
var xScale = d3.scaleLinear().domain([0,59.13]).range([aLeft,aRight]);
var yScale = d3.scaleLinear().domain([0,60]).range([aBottom,aTop]);

svg.append("g").attr("transform","translate(0,"+aBottom+")")
  .call(d3.axisBottom(xScale).tickValues(xTicks).tickSize(-(aBottom-aTop)).tickFormat(""))
  .call(function(g){g.select(".domain").remove();g.selectAll("line").attr("stroke","#e6e6e6");});
svg.append("g").attr("transform","translate("+aLeft+",0)")
  .call(d3.axisLeft(yScale).tickValues(yTicks).tickSize(-(aRight-aLeft)).tickFormat(""))
  .call(function(g){g.select(".domain").remove();g.selectAll("line").attr("stroke","#e6e6e6");});

svg.append("rect").attr("x",aLeft).attr("y",aTop).attr("width",aRight-aLeft).attr("height",aBottom-aTop)
  .attr("fill","none").attr("stroke","#8a8a8a");

var axisB = svg.append("g").attr("transform","translate(0,"+aBottom+")")
  .call(d3.axisBottom(xScale).tickValues(xTicks).tickSizeInner(-10).tickSizeOuter(0).tickPadding(14));
axisB.select(".domain").attr("stroke","#555");
axisB.selectAll("line").attr("stroke","#555");
axisB.selectAll("text").style("font-size","22px").style("font-family","Liberation Sans");
var axisL = svg.append("g").attr("transform","translate("+aLeft+",0)")
  .call(d3.axisLeft(yScale).tickValues(yTicks).tickSizeInner(-10).tickSizeOuter(0).tickPadding(6));
axisL.select(".domain").attr("stroke","#555");
axisL.selectAll("line").attr("stroke","#555");
axisL.selectAll("text").style("font-size","22px").style("font-family","Liberation Sans");
// matlab box puts the ticks on top and right as well
var axisT = svg.append("g").attr("transform","translate(0,"+aTop+")")
  .call(d3.axisTop(xScale).tickValues(xTicks).tickSizeInner(-10).tickSizeOuter(0).tickFormat(""));
axisT.select(".domain").remove();
axisT.selectAll("line").attr("stroke","#555");
var axisR = svg.append("g").attr("transform","translate("+aRight+",0)")
  .call(d3.axisRight(yScale).tickValues(yTicks).tickSizeInner(-10).tickSizeOuter(0).tickFormat(""));
axisR.select(".domain").remove();
axisR.selectAll("line").attr("stroke","#555");

var depthLine = d3.line().x(function(d){return xScale(d[0]);}).y(function(d){return yScale(d[1]);});
svg.append("defs").append("clipPath").attr("id","clipA").append("rect")
  .attr("x",aLeft-3).attr("y",aTop-3).attr("width",aRight-aLeft+3).attr("height",aBottom-aTop+6);
svg.append("g").attr("clip-path","url(#clipA)").selectAll("path").data(depthSeries).enter().append("path")
  .attr("d",depthLine).attr("fill","none").attr("stroke-width",4.5).attr("stroke-linejoin","round")
  .attr("stroke",function(d,i){return depthColors[i];});

svg.append("text").attr("x",585).attr("y",31).attr("text-anchor","middle")
  .style("font-size","24px").style("font-weight","bold").style("fill","#000").text("Tanmed_Alucemas_FN");
svg.append("text").attr("x",585).attr("y",527).attr("text-anchor","middle")
  .style("font-size","24px").text("Elapsed time (Days)");
svg.append("text").attr("transform","translate(46,250) rotate(-90)").attr("text-anchor","middle")
  .style("font-size","24px").text("Particles collected (%)");
svg.append("text").attr("x",30).attr("y",86).style("font-size","34px").style("fill","#000").text("a)");

var legendA = svg.append("g");
legendA.append("rect").attr("x",98).attr("y",52).attr("width",77).attr("height",132)
  .attr("fill","#fff").attr("stroke","#555");
depthNames.forEach(function(n,i){
  var rowY = 65+i*26.5;
  legendA.append("line").attr("x1",102).attr("x2",129).attr("y1",rowY).attr("y2",rowY)
    .attr("stroke",depthColors[i]).attr("stroke-width",4.5);
  legendA.append("text").attr("x",132).attr("y",rowY+7).style("font-size","20px").text(n);
});

// ---- panel b
var lonScale = d3.scaleLinear().domain([-5,-2]).range([250,895]);
var latScale = d3.scaleLinear().domain([35,36]).range([1039,774]);
var mapLeft = lonScale(-5.753), mapRight = lonScale(-1.102), mapTop = latScale(36.764), mapBottom = latScale(34.947);
var project = function(d){return [lonScale(d[0]),latScale(d[1])];};
var polyLine = d3.line().x(function(d){return lonScale(d[0]);}).y(function(d){return latScale(d[1]);});
var trackLine = d3.line().x(function(d){return lonScale(d[0]);}).y(function(d){return latScale(d[1]);}).curve(d3.curveCatmullRom.alpha(0.5));

var land = "#b2b2b2", sea = "#ADEBFF";
svg.append("rect").attr("x",mapLeft).attr("y",mapTop).attr("width",mapRight-mapLeft).attr("height",mapBottom-mapTop).attr("fill",land);
var seaOutline = northCoast.concat(eastCoast,alhucemasCoast,westCoast);
svg.append("path").attr("d",polyLine(seaOutline)+"Z").attr("fill",sea).attr("stroke","#3c3c3c").attr("stroke-width",1);
svg.append("path").attr("d",polyLine(lagoon)+"Z").attr("fill",sea).attr("stroke","#3c3c3c").attr("stroke-width",1);
svg.append("path").attr("d",polyLine(alhucemasCoast.concat(alhucemasTop.slice(1)))+"Z")
  .attr("fill","#CBF2FF").attr("stroke","#0000ff").attr("stroke-width",3).attr("stroke-linejoin","round");

var mapGrid = svg.append("g").attr("stroke","#6f8088").attr("stroke-width",0.8).attr("stroke-dasharray","1 2");
mapGrid.selectAll("line.lon").data(lonGrid).enter().append("line").attr("class","lon")
  .attr("x1",function(d){return lonScale(d);}).attr("x2",function(d){return lonScale(d);})
  .attr("y1",mapTop).attr("y2",mapBottom);
mapGrid.selectAll("line.lat").data(latGrid).enter().append("line").attr("class","lat")
  .attr("y1",function(d){return latScale(d);}).attr("y2",function(d){return latScale(d);})
  .attr("x1",mapLeft).attr("x2",mapRight);

svg.append("g").selectAll("path").data(blackTracks).enter().append("path")
  .attr("d",trackLine).attr("fill","none").attr("stroke","#000").attr("stroke-width",1.6);
svg.append("g").selectAll("circle").data(blackEnds).enter().append("circle")
  .attr("cx",function(d){return project(d)[0];}).attr("cy",function(d){return project(d)[1];})
  .attr("r",4.6).attr("fill","none").attr("stroke","#000").attr("stroke-width",2.8);
svg.append("path").attr("d",polyLine(redBlob)+"Z").attr("fill","#f00");
svg.append("g").selectAll("path").data(redTracks).enter().append("path")
  .attr("d",trackLine).attr("fill","none").attr("stroke","#f00").attr("stroke-width",1.6);
svg.append("g").selectAll("circle").data(redEnds).enter().append("circle")
  .attr("cx",function(d){return project(d)[0];}).attr("cy",function(d){return project(d)[1];})
  .attr("r",4.6).attr("fill","none").attr("stroke","#f00").attr("stroke-width",2.8);

// fancy frame
var frame = svg.append("g");
var barW = 10;
var lonBars = d3.pairs(lonEdges), latBars = d3.pairs(latEdges);
frame.selectAll("rect.top").data(lonBars).enter().append("rect").attr("class","top")
  .attr("x",function(d){return lonScale(d[0]);}).attr("width",function(d){return lonScale(d[1])-lonScale(d[0]);})
  .attr("y",mapTop-barW).attr("height",barW)
  .attr("fill",function(d,i){return i%2?"#000":"#fff";});
frame.selectAll("rect.bottom").data(lonBars).enter().append("rect").attr("class","bottom")
  .attr("x",function(d){return lonScale(d[0]);}).attr("width",function(d){return lonScale(d[1])-lonScale(d[0]);})
  .attr("y",mapBottom).attr("height",barW+1)
  .attr("fill",function(d,i){return i%2?"#fff":"#000";});
frame.selectAll("rect.left").data(latBars).enter().append("rect").attr("class","left")
  .attr("y",function(d){return latScale(d[0]);}).attr("height",function(d){return latScale(d[1])-latScale(d[0]);})
  .attr("x",mapLeft-barW).attr("width",barW)
  .attr("fill",function(d,i){return i%2?"#000":"#fff";});
frame.selectAll("rect.right").data(latBars).enter().append("rect").attr("class","right")
  .attr("y",function(d){return latScale(d[0]);}).attr("height",function(d){return latScale(d[1])-latScale(d[0]);})
  .attr("x",mapRight).attr("width",barW)
  .attr("fill",function(d,i){return i%2?"#fff":"#000";});
frame.append("rect").attr("x",mapLeft).attr("y",mapTop).attr("width",mapRight-mapLeft).attr("height",mapBottom-mapTop)
  .attr("fill","none").attr("stroke","#777").attr("stroke-width",1);
frame.append("rect").attr("x",mapLeft-barW).attr("y",mapTop-barW).attr("width",mapRight-mapLeft+2*barW).attr("height",mapBottom-mapTop+2*barW+1)
  .attr("fill","none").attr("stroke","#888").attr("stroke-width",1);
frame.append("line").attr("x1",mapLeft-barW).attr("y1",mapTop-barW).attr("x2",mapLeft).attr("y2",mapTop).attr("stroke","#888");

// tick labels
svg.append("g").selectAll("text").data(lonGrid).enter().append("text")
  .attr("x",function(d){return lonScale(d)+7.5;}).attr("y",1089).attr("text-anchor","middle")
  .style("font-size","26.5px").style("fill","#111").text(function(d,i){return lonLabels[i];});
svg.append("g").selectAll("text").data(latGrid).enter().append("text")
  .attr("x",function(d,i){return (i==0||i==3)?69:72;}).attr("y",function(d){return latScale(d)+9;}).attr("text-anchor","end")
  .style("font-size",function(d,i){return (i==0||i==3)?"27px":"22px";}).style("fill","#111")
  .attr("dy",function(d,i){return (i==0||i==3)?1:-1;})
  .text(function(d,i){return latLabels[i];});

svg.append("text").attr("x",100).attr("y",610).style("font-size","40px").style("fill","#000").text("b)");
svg.append("text").attr("x",lonScale(-3.69)).attr("y",1023).attr("text-anchor","middle").style("font-size","27px").style("fill","#111").text("Alhucemas");

// map legend
var legendB = svg.append("g");
legendB.append("rect").attr("x",92).attr("y",981).attr("width",103).attr("height",69).attr("fill",sea).attr("stroke","#666");
[["25 m","#000"],["01 m","#f00"]].forEach(function(r,i){
  var rowY = 1000+i*32;
  legendB.append("circle").attr("cx",114).attr("cy",rowY).attr("r",4.6).attr("fill","none").attr("stroke",r[1]).attr("stroke-width",2.8);
  legendB.append("text").attr("x",134).attr("y",rowY+9).style("font-size","25px").style("fill","#111").text(r[0]);
});
</script>
</body>
</html>
